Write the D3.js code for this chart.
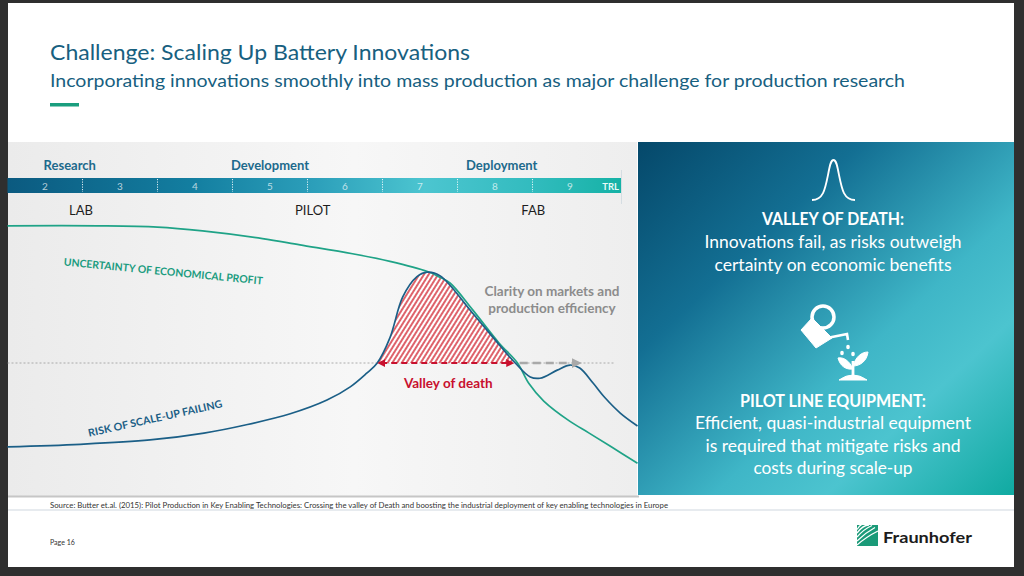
<!DOCTYPE html>
<html>
<head>
<meta charset="utf-8">
<script src="https://cdn.jsdelivr.net/npm/d3@7/dist/d3.min.js"></script>
<style>
	body { margin: 0; background: #2f2f2f; }
	svg { display: block; font-family: Lato, "Open Sans", sans-serif; }
</style>
</head>
<body>
<script>
const WIDTH = 1024;
const HEIGHT = 576;

// TRL axis, phases and sites (positions in TRL units)
const trlLevels = [2, 3, 4, 5, 6, 7, 8, 9];
const phases = ["Research", "Development", "Deployment"];
const phaseAt = [2.33, 5.0, 8.09];
const sites = ["LAB", "PILOT", "FAB"];
const siteAt = [2.48, 5.57, 8.51];

// curves as [TRL, level]
const uncertainty = [
	[1.5, 104], [2.7, 104], [3.5, 103.5], [4.1, 102], [4.9, 99], [5.4, 96.5],
	[6.1, 93], [6.6, 90], [7.1, 86], [7.25, 84], [7.4, 81.5], [7.7, 71],
	[8.05, 58], [8.3, 50], [8.45, 42], [8.65, 35], [9.0, 27], [9.25, 22.5],
	[9.55, 17], [9.9, 10.5]
];
const risk = [
	[1.5, 17], [2.47, 18], [3.4, 19.7], [4.12, 22.4], [4.67, 25.6], [5.27, 30],
	[5.76, 35.4], [6.07, 40.6], [6.29, 46], [6.43, 50], [6.6, 60], [6.77, 76],
	[6.96, 84], [7.1, 85.8], [7.27, 84.3], [7.7, 69.7], [8.07, 56.7], [8.27, 50],
	[8.47, 44.5], [8.6, 44], [8.83, 47.2], [9.0, 49.2], [9.13, 48], [9.31, 42],
	[9.47, 36.2], [9.67, 30.3], [9.9, 25.2]
];
const threshold = 50;
const thresholdEnd = 9.59;
const valley = [6.43, 8.27];
const clarity = [8.33, 9.09];

const rightTitle1 = "VALLEY OF DEATH:";
const rightText1 = ["Innovations fail, as risks outweigh", "certainty on economic benefits"];
const rightTitle2 = "PILOT LINE EQUIPMENT:";
const rightText2 = ["Efficient, quasi-industrial equipment", "is required that mitigate risks and", "costs during scale-up"];
// measured line widths on the slide
const rightWidth1 = [257, 237];
const rightWidth2 = [276, 255, 159];

const x = d3.scaleLinear().domain([1.5, 9.9]).range([7.5, 637.5]);
const y = d3.scaleLinear().domain([0, 100]).range([490, 236]);

const svg = d3
	.select("body")
	.append("svg")
	.attr("width", WIDTH)
	.attr("height", HEIGHT);

const defs = svg.append("defs");

const addGradient = (id, stops, x2, y2) => {
	const g = defs.append("linearGradient")
		.attr("id", id)
		.attr("x1", 0).attr("y1", 0)
		.attr("x2", x2).attr("y2", y2);
	stops.forEach((s) => {
		g.append("stop").attr("offset", s[0]).attr("stop-color", s[1]);
	});
};
addGradient("panelBg", [[0, "#ebebeb"], [0.55, "#f7f7f7"], [1, "#eeeeee"]], 1, 0);
addGradient("trlBg", [[0, "#0b5a80"], [0.3, "#137ea0"], [0.5, "#2c9fba"], [0.68, "#4cc5d0"], [0.85, "#33bcbf"], [1, "#16b2a6"]], 1, 0);
addGradient("rightBg", [[0, "#05486a"], [0.3, "#136f93"], [0.6, "#3fb6c7"], [0.75, "#4cc4cf"], [1, "#10aaa1"]], 1, 1);

const hatch = defs.append("pattern")
	.attr("id", "hatch")
	.attr("patternUnits", "userSpaceOnUse")
	.attr("width", 4)
	.attr("height", 4)
	.attr("patternTransform", "rotate(32)");
hatch.append("rect").attr("width", 4).attr("height", 4).attr("fill", "#ffffff");
hatch.append("line")
	.attr("x1", 1).attr("y1", 0).attr("x2", 1).attr("y2", 4)
	.attr("stroke", "#d0202c").attr("stroke-width", 1.4);

const addMarker = (id, color) => {
	defs.append("marker")
		.attr("id", id)
		.attr("viewBox", "0 0 10 10")
		.attr("refX", 5).attr("refY", 5)
		.attr("markerWidth", 4).attr("markerHeight", 4)
		.attr("orient", "auto-start-reverse")
		.append("path")
		.attr("d", "M0,0 L10,5 L0,10 z")
		.attr("fill", color);
};
addMarker("arrowRed", "#c8102e");
addMarker("arrowGray", "#a9a9a9");

defs.append("clipPath")
	.attr("id", "valleyClip")
	.append("rect")
	.attr("x", x(valley[0]))
	.attr("y", 0)
	.attr("width", x(valley[1]) - x(valley[0]))
	.attr("height", y(threshold));

// slide
svg.append("rect")
	.attr("x", 8).attr("y", 3)
	.attr("width", 1006).attr("height", 564)
	.attr("fill", "#ffffff");

svg.append("text")
	.attr("x", 50).attr("y", 60)
	.attr("font-size", 21.5)
	.attr("fill", "#17607f")
	.attr("textLength", 420)
	.attr("lengthAdjust", "spacingAndGlyphs")
	.text("Challenge: Scaling Up Battery Innovations");

svg.append("text")
	.attr("x", 50).attr("y", 87)
	.attr("font-size", 17)
	.attr("fill", "#17607f")
	.attr("textLength", 855)
	.attr("lengthAdjust", "spacingAndGlyphs")
	.text("Incorporating innovations smoothly into mass production as major challenge for production research");

svg.append("rect")
	.attr("x", 50).attr("y", 103)
	.attr("width", 29).attr("height", 3.5)
	.attr("fill", "#1a9e7e");

// chart panel
svg.append("rect")
	.attr("x", 8).attr("y", 142)
	.attr("width", 629).attr("height", 354)
	.attr("fill", "url(#panelBg)");
svg.append("rect")
	.attr("x", 8).attr("y", 495.5)
	.attr("width", 631).attr("height", 2)
	.attr("fill", "#c6c6c6");

// TRL bar
const trlEnd = 9.68;
svg.append("rect")
	.attr("x", x(1.5)).attr("y", 178)
	.attr("width", x(trlEnd) - x(1.5)).attr("height", 15)
	.attr("fill", "url(#trlBg)");

svg.append("line")
	.attr("x1", x(trlEnd) + 0.5).attr("x2", x(trlEnd) + 0.5)
	.attr("y1", 170).attr("y2", 204)
	.attr("stroke", "#d5dde2").attr("stroke-width", 1);

svg.selectAll(".divider")
	.data(trlLevels.slice(0, -1))
	.enter()
	.append("line")
	.attr("x1", (d) => x(d + 0.5))
	.attr("x2", (d) => x(d + 0.5))
	.attr("y1", 179).attr("y2", 192)
	.attr("stroke", "#ffffff")
	.attr("stroke-opacity", 0.85)
	.attr("stroke-dasharray", "1.2,1.3");

svg.selectAll(".trlnum")
	.data(trlLevels)
	.enter()
	.append("text")
	.attr("x", (d) => x(d))
	.attr("y", 189.5)
	.attr("text-anchor", "middle")
	.attr("font-size", 10)
	.attr("fill", "#ffffff")
	.attr("fill-opacity", 0.7)
	.text((d) => d);

svg.append("text")
	.attr("x", x(trlEnd) - 2).attr("y", 189.5)
	.attr("text-anchor", "end")
	.attr("font-size", 9.5)
	.attr("font-weight", 700)
	.attr("fill", "#e8fbf8")
	.text("TRL");

svg.selectAll(".phase")
	.data(phases)
	.enter()
	.append("text")
	.attr("x", (d, i) => x(phaseAt[i]))
	.attr("y", 169.5)
	.attr("text-anchor", "middle")
	.attr("font-size", 13)
	.attr("font-weight", 700)
	.attr("fill", "#1d6a8c")
	.text((d) => d);

svg.selectAll(".site")
	.data(sites)
	.enter()
	.append("text")
	.attr("x", (d, i) => x(siteAt[i]))
	.attr("y", 215)
	.attr("text-anchor", "middle")
	.attr("font-size", 13)
	.attr("fill", "#1e1e1e")
	.text((d) => d);

// threshold and valley
svg.append("line")
	.attr("x1", x(1.5)).attr("x2", x(thresholdEnd))
	.attr("y1", y(threshold)).attr("y2", y(threshold))
	.attr("stroke", "#9a9a9a")
	.attr("stroke-width", 0.8)
	.attr("stroke-dasharray", "2,2");

const curve = d3.curveCatmullRom.alpha(0.5);
const area = d3.area()
	.x((d) => x(d[0]))
	.y0(y(threshold))
	.y1((d) => y(d[1]))
	.curve(curve);
const line = d3.line()
	.x((d) => x(d[0]))
	.y((d) => y(d[1]))
	.curve(curve);

svg.append("path")
	.attr("d", area(risk))
	.attr("clip-path", "url(#valleyClip)")
	.attr("fill", "url(#hatch)");

svg.append("path")
	.attr("d", line(uncertainty))
	.attr("fill", "none")
	.attr("stroke", "#1fa387")
	.attr("stroke-width", 1.7);

svg.append("path")
	.attr("d", line(risk))
	.attr("fill", "none")
	.attr("stroke", "#1b5f87")
	.attr("stroke-width", 1.7);

svg.append("line")
	.attr("x1", x(valley[0]) + 4).attr("x2", x(valley[1]) - 5)
	.attr("y1", y(threshold)).attr("y2", y(threshold))
	.attr("stroke", "#c8102e")
	.attr("stroke-width", 2)
	.attr("stroke-dasharray", "6,4")
	.attr("marker-start", "url(#arrowRed)")
	.attr("marker-end", "url(#arrowRed)");

svg.append("line")
	.attr("x1", x(clarity[0])).attr("x2", x(clarity[1]))
	.attr("y1", y(threshold)).attr("y2", y(threshold))
	.attr("stroke", "#a9a9a9")
	.attr("stroke-width", 2.5)
	.attr("stroke-dasharray", "8,5")
	.attr("marker-end", "url(#arrowGray)");

svg.append("text")
	.attr("x", (x(valley[0]) + x(valley[1])) / 2 + 2)
	.attr("y", 388)
	.attr("text-anchor", "middle")
	.attr("font-size", 13.5)
	.attr("font-weight", 700)
	.attr("fill", "#c8102e")
	.text("Valley of death");

svg.selectAll(".clarity")
	.data(["Clarity on markets and", "production efficiency"])
	.enter()
	.append("text")
	.attr("x", 552)
	.attr("y", (d, i) => 296 + i * 17)
	.attr("text-anchor", "middle")
	.attr("font-size", 13.5)
	.attr("font-weight", 700)
	.attr("fill", "#8c8c8c")
	.text((d) => d);

svg.append("text")
	.attr("transform", "translate(163,275) rotate(5.5)")
	.attr("text-anchor", "middle")
	.attr("font-size", 10.5)
	.attr("font-weight", 700)
	.attr("fill", "#1b9c7f")
	.attr("textLength", 200)
	.attr("lengthAdjust", "spacingAndGlyphs")
	.text("UNCERTAINTY OF ECONOMICAL PROFIT");

svg.append("text")
	.attr("transform", "translate(156,422) rotate(-12.5)")
	.attr("text-anchor", "middle")
	.attr("font-size", 10.5)
	.attr("font-weight", 700)
	.attr("fill", "#1b5e86")
	.attr("textLength", 137)
	.attr("lengthAdjust", "spacingAndGlyphs")
	.text("RISK OF SCALE-UP FAILING");

// right panel
svg.append("rect")
	.attr("x", 638).attr("y", 142)
	.attr("width", 376).attr("height", 353)
	.attr("fill", "url(#rightBg)");

const icons = svg.append("g")
	.attr("fill", "#ffffff")
	.attr("stroke", "#ffffff");

icons.append("path")
	.attr("d", "M812,200 C823,200 825,190 828,175 C830,164 831,160 833.5,160 C836,160 837,164 839,175 C842,190 844,200 855,200")
	.attr("fill", "none")
	.attr("stroke-width", 1.8);

// watering can and plant
icons.append("circle")
	.attr("cx", 823).attr("cy", 317).attr("r", 11)
	.attr("fill", "none")
	.attr("stroke-width", 3.5);
icons.append("path")
	.attr("d", "M801,330 L812,318 L832,338 L816,348 Z")
	.attr("stroke-width", 1);
icons.append("path")
	.attr("d", "M827,338 L847,334 L848,340")
	.attr("fill", "none")
	.attr("stroke-width", 2.6);
icons.selectAll(".drop")
	.data([[842, 353], [848, 347], [853, 354]])
	.enter()
	.append("ellipse")
	.attr("cx", (d) => d[0]).attr("cy", (d) => d[1])
	.attr("rx", 1.8).attr("ry", 2.3)
	.attr("stroke", "none");
icons.append("path")
	.attr("d", "M853,377 L853,361")
	.attr("stroke-width", 2.8)
	.attr("fill", "none");
icons.append("path")
	.attr("d", "M853,369 C849,360 843,357 838,358 C840,366 846,370 853,369 Z")
	.attr("stroke-width", 1);
icons.append("path")
	.attr("d", "M853,366 C856,356 862,352 868,352 C867,361 860,366 853,366 Z")
	.attr("stroke-width", 1);
icons.append("path")
	.attr("d", "M839,380 Q853,370 867,380 Z")
	.attr("stroke-width", 1);

const panelText = svg.append("g")
	.attr("fill", "#ffffff")
	.attr("text-anchor", "middle")
	.attr("font-size", 16.5);

panelText.append("text")
	.attr("x", 833).attr("y", 225)
	.attr("font-weight", 700)
	.attr("textLength", 142)
	.attr("lengthAdjust", "spacingAndGlyphs")
	.text(rightTitle1);
panelText.selectAll(".t1")
	.data(rightText1)
	.enter()
	.append("text")
	.attr("x", 833)
	.attr("y", (d, i) => 248 + i * 23)
	.attr("textLength", (d, i) => rightWidth1[i])
	.attr("lengthAdjust", "spacingAndGlyphs")
	.text((d) => d);

panelText.append("text")
	.attr("x", 833).attr("y", 407)
	.attr("font-weight", 700)
	.attr("textLength", 186)
	.attr("lengthAdjust", "spacingAndGlyphs")
	.text(rightTitle2);
panelText.selectAll(".t2")
	.data(rightText2)
	.enter()
	.append("text")
	.attr("x", 833)
	.attr("y", (d, i) => 429 + i * 22.5)
	.attr("textLength", (d, i) => rightWidth2[i])
	.attr("lengthAdjust", "spacingAndGlyphs")
	.text((d) => d);

// footer
svg.append("text")
	.attr("x", 50).attr("y", 507.5)
	.attr("font-size", 7)
	.attr("fill", "#333333")
	.attr("textLength", 618)
	.attr("lengthAdjust", "spacingAndGlyphs")
	.text("Source: Butter et.al. (2015): Pilot Production in Key Enabling Technologies: Crossing the valley of Death and boosting the industrial deployment of key enabling technologies in Europe");

svg.append("rect")
	.attr("x", 8).attr("y", 509.5)
	.attr("width", 1006).attr("height", 1)
	.attr("fill", "#cfd8df");

svg.append("text")
	.attr("x", 50).attr("y", 544.5)
	.attr("font-size", 7)
	.attr("fill", "#333333")
	.text("Page 16");

const logo = svg.append("g");
logo.append("rect")
	.attr("x", 857).attr("y", 525)
	.attr("width", 21).attr("height", 21)
	.attr("fill", "#1a9a78");
logo.selectAll(".stripe")
	.data([[545, 531], [541, 527.5], [537, 525.5], [533, 525], [529.5, 525]])
	.enter()
	.append("path")
	.attr("d", (d, i) => `M857,${d[0]} Q${866 - i},${d[0] - 8} ${878 - i * 3},${d[1]}`)
	.attr("fill", "none")
	.attr("stroke", "#ffffff")
	.attr("stroke-width", 1.3);
logo.append("text")
	.attr("x", 883).attr("y", 543)
	.attr("font-size", 16)
	.attr("font-weight", 700)
	.attr("fill", "#1c1c1c")
	.attr("textLength", 89)
	.attr("lengthAdjust", "spacingAndGlyphs")
	.text("Fraunhofer");
</script>
</body>
</html>
